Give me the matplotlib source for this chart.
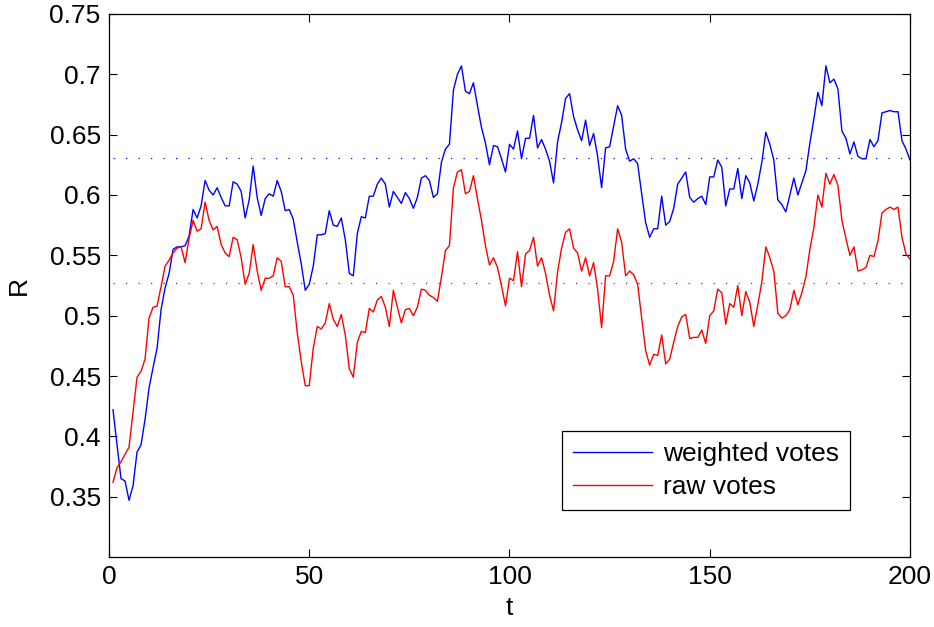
import numpy as np
import matplotlib.pyplot as plt

plt.rcParams['font.family'] = ['Liberation Sans', 'DejaVu Sans']

t = np.arange(1, 201)

weighted = [
    0.422, 0.393, 0.365, 0.363, 0.347, 0.359, 0.387, 0.393, 0.414, 0.440,
    0.457, 0.473, 0.505, 0.523, 0.535, 0.555, 0.557, 0.557, 0.558, 0.566,
    0.588, 0.581, 0.591, 0.612, 0.604, 0.600, 0.606, 0.598, 0.591, 0.591,
    0.611, 0.609, 0.603, 0.581, 0.596, 0.624, 0.598, 0.583, 0.597, 0.601,
    0.599, 0.612, 0.603, 0.587, 0.588, 0.580, 0.561, 0.543, 0.521, 0.526,
    0.541, 0.567, 0.567, 0.568, 0.587, 0.575, 0.574, 0.581, 0.563, 0.535,
    0.533, 0.568, 0.582, 0.581, 0.599, 0.599, 0.609, 0.614, 0.609, 0.590,
    0.603, 0.598, 0.593, 0.602, 0.597, 0.589, 0.598, 0.614, 0.616, 0.612,
    0.598, 0.601, 0.627, 0.638, 0.642, 0.687, 0.700, 0.707, 0.686, 0.684,
    0.693, 0.674, 0.656, 0.643, 0.625, 0.641, 0.640, 0.630, 0.619, 0.642,
    0.638, 0.653, 0.630, 0.647, 0.647, 0.666, 0.639, 0.646, 0.638, 0.628,
    0.610, 0.644, 0.660, 0.680, 0.684, 0.665, 0.654, 0.645, 0.662, 0.641,
    0.651, 0.632, 0.606, 0.639, 0.640, 0.657, 0.674, 0.666, 0.638, 0.628,
    0.630, 0.626, 0.601, 0.577, 0.565, 0.572, 0.572, 0.599, 0.575, 0.578,
    0.589, 0.609, 0.614, 0.619, 0.598, 0.594, 0.597, 0.599, 0.592, 0.615,
    0.615, 0.629, 0.623, 0.591, 0.605, 0.605, 0.622, 0.597, 0.616, 0.610,
    0.595, 0.609, 0.627, 0.652, 0.642, 0.629, 0.596, 0.592, 0.586, 0.600,
    0.614, 0.600, 0.610, 0.620, 0.643, 0.663, 0.685, 0.674, 0.707, 0.693,
    0.696, 0.688, 0.653, 0.647, 0.634, 0.644, 0.632, 0.630, 0.630, 0.646,
    0.640, 0.645, 0.668, 0.669, 0.670, 0.669, 0.669, 0.645, 0.638, 0.629,
]

raw = [
    0.362, 0.374, 0.379, 0.385, 0.391, 0.420, 0.449, 0.454, 0.464, 0.498,
    0.507, 0.508, 0.524, 0.541, 0.546, 0.552, 0.556, 0.557, 0.544, 0.564,
    0.579, 0.570, 0.572, 0.594, 0.579, 0.571, 0.574, 0.559, 0.552, 0.549,
    0.565, 0.563, 0.548, 0.526, 0.535, 0.559, 0.537, 0.521, 0.531, 0.531,
    0.533, 0.548, 0.545, 0.524, 0.524, 0.517, 0.486, 0.462, 0.442, 0.442,
    0.473, 0.491, 0.489, 0.494, 0.510, 0.497, 0.491, 0.501, 0.484, 0.456,
    0.449, 0.478, 0.487, 0.486, 0.506, 0.503, 0.513, 0.516, 0.507, 0.491,
    0.521, 0.507, 0.494, 0.505, 0.506, 0.500, 0.507, 0.522, 0.521, 0.517,
    0.515, 0.512, 0.532, 0.554, 0.558, 0.606, 0.619, 0.621, 0.601, 0.603,
    0.616, 0.597, 0.579, 0.558, 0.542, 0.548, 0.540, 0.525, 0.508, 0.531,
    0.529, 0.553, 0.524, 0.551, 0.554, 0.565, 0.541, 0.548, 0.535, 0.517,
    0.504, 0.536, 0.556, 0.569, 0.572, 0.556, 0.552, 0.537, 0.548, 0.533,
    0.544, 0.522, 0.490, 0.533, 0.533, 0.545, 0.572, 0.561, 0.533, 0.537,
    0.534, 0.526, 0.498, 0.471, 0.459, 0.468, 0.467, 0.484, 0.460, 0.464,
    0.478, 0.491, 0.499, 0.501, 0.481, 0.482, 0.482, 0.488, 0.477, 0.500,
    0.504, 0.522, 0.519, 0.493, 0.510, 0.507, 0.525, 0.500, 0.520, 0.511,
    0.491, 0.509, 0.528, 0.557, 0.548, 0.537, 0.502, 0.498, 0.500, 0.505,
    0.521, 0.509, 0.519, 0.532, 0.555, 0.573, 0.600, 0.590, 0.618, 0.609,
    0.617, 0.608, 0.579, 0.564, 0.550, 0.557, 0.537, 0.538, 0.540, 0.550,
    0.549, 0.562, 0.585, 0.588, 0.590, 0.588, 0.590, 0.565, 0.551, 0.547,
]

# reference levels drawn as dotted lines
weighted_level = 0.631
raw_level = 0.527

fig = plt.figure(figsize=(9.34, 6.27), dpi=100)
ax = fig.add_axes([0.1167, 0.1116, 0.8576, 0.8661])

ax.plot(t, weighted, color='#0000ff', lw=1.0, label='weighted votes')
ax.plot(t, raw, color='#ff0000', lw=1.0, label='raw votes')
ax.plot([t[0], t[-1]], [weighted_level] * 2, color='#0000ff', lw=0.9,
        linestyle=(0, (1, 9)))
ax.plot([t[0], t[-1]], [raw_level] * 2, color='#ff0000', lw=0.9,
        linestyle=(0, (1, 9)))

ax.set_xlim(0, 200)
ax.set_ylim(0.3, 0.75)
ax.set_xticks([0, 50, 100, 150, 200])
ax.set_yticks([0.35, 0.4, 0.45, 0.5, 0.55, 0.6, 0.65, 0.7, 0.75])
ax.set_yticklabels(['0.35', '0.4', '0.45', '0.5', '0.55', '0.6', '0.65', '0.7', '0.75'])
ax.tick_params(direction='in', length=6, width=0.8, labelsize=19,
               top=True, right=True, pad=6)
for s in ax.spines.values():
    s.set_linewidth(0.9)

ax.set_xlabel('t', fontsize=19, labelpad=5)
ax.set_ylabel('R', fontsize=19, labelpad=13)

leg = ax.legend(loc='lower right', bbox_to_anchor=(0.925, 0.0866),
                fontsize=19, handlelength=3.0, handletextpad=0.4,
                labelspacing=0.33, borderpad=0.42, borderaxespad=0,
                fancybox=False, framealpha=1)
leg.get_frame().set_edgecolor('black')
leg.get_frame().set_linewidth(0.9)

fig.savefig('out.png', dpi=100)
